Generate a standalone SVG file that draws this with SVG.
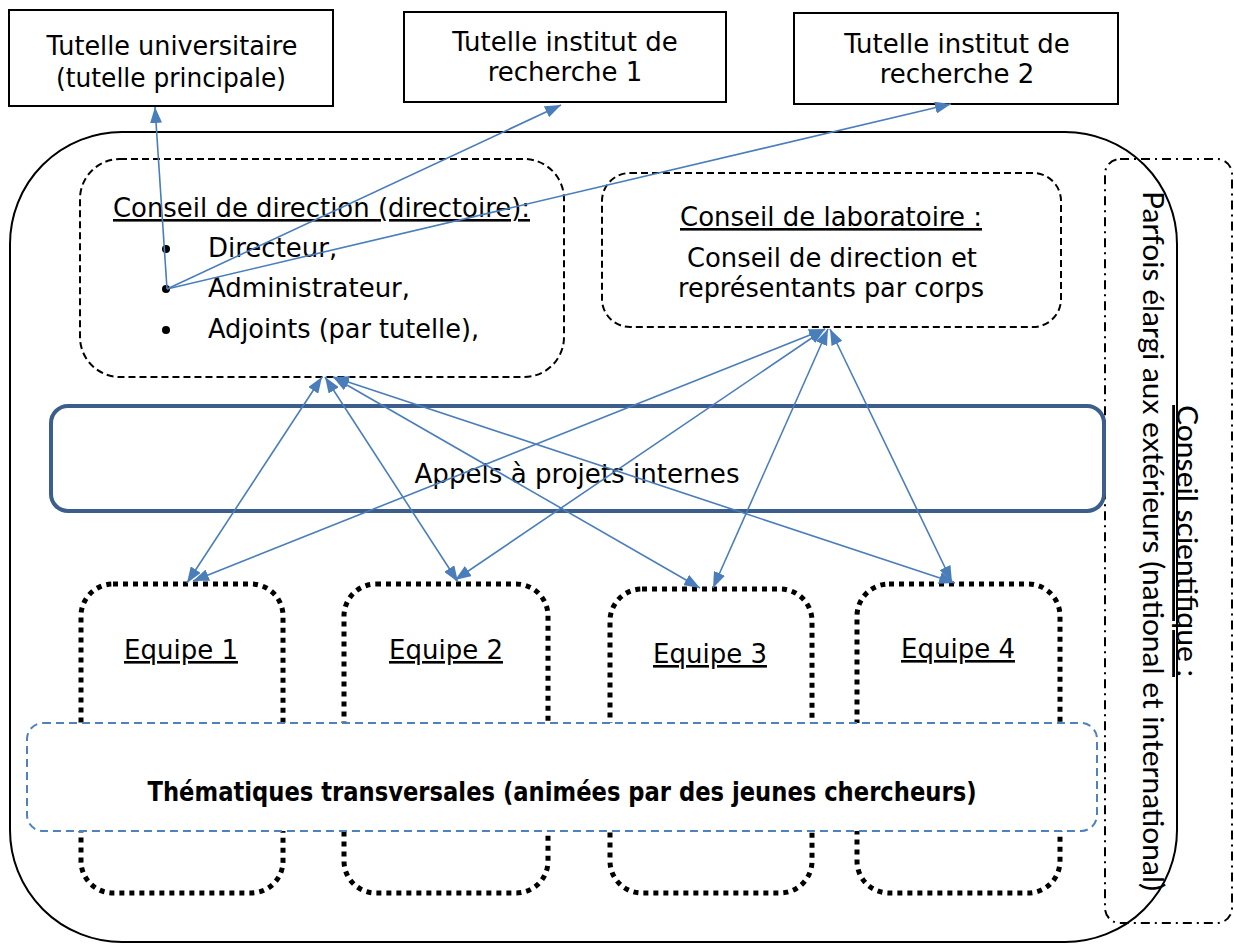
<svg xmlns="http://www.w3.org/2000/svg" width="1234" height="944" viewBox="0 0 1234 944">
<style>
text{font-family:"DejaVu Sans",Verdana,sans-serif;font-size:26px;fill:#000}
.c{text-anchor:middle}
.u{text-decoration:underline}
.box{fill:#fff;stroke:#000;stroke-width:2}
.dash{fill:none;stroke:#000;stroke-width:2;stroke-dasharray:7 4}
.dot{fill:none;stroke:#000;stroke-width:5;stroke-dasharray:5 5}
.con{fill:none;stroke:#4A7EBB;stroke-width:1.6}
.rot{font-family:Lato,"Open Sans",sans-serif;font-size:28px}
</style>
<defs>
<marker id="ah" viewBox="0 0 16 12" refX="16" refY="6" markerWidth="16" markerHeight="12" markerUnits="userSpaceOnUse" orient="auto-start-reverse">
<path d="M0,0 L16,6 L0,12 z" fill="#4A7EBB"/>
</marker>
</defs>
<g id="laboratoire">
<rect x="10" y="132" width="1167" height="810" rx="112" ry="112" fill="none" stroke="#000" stroke-width="2"/>
</g>
<g id="conseil-scientifique">
<rect x="1105" y="159" width="127" height="764" rx="15" ry="15" fill="none" stroke="#000" stroke-width="2" stroke-dasharray="9 5 2 5"/>
<text class="rot c" transform="translate(1143,541) rotate(90)" textLength="700" lengthAdjust="spacingAndGlyphs">Parfois élargi aux extérieurs (national et international)</text>
<text class="rot c u" transform="translate(1177,541) rotate(90)" textLength="272" lengthAdjust="spacingAndGlyphs">Conseil scientifique :</text>
</g>
<g id="tutelle-univ">
<rect class="box" x="9" y="10" width="324" height="96"/>
<text class="c" x="172" y="55" textLength="251" lengthAdjust="spacingAndGlyphs">Tutelle universitaire</text>
<text class="c" x="171" y="87" textLength="230" lengthAdjust="spacingAndGlyphs">(tutelle principale)</text>
</g>
<g id="tutelle-inst1">
<rect class="box" x="404" y="12" width="322" height="90"/>
<text class="c" x="565" y="51">Tutelle institut de</text>
<text class="c" x="565" y="81">recherche 1</text>
</g>
<g id="tutelle-inst2">
<rect class="box" x="794" y="13" width="324" height="91"/>
<text class="c" x="957" y="53">Tutelle institut de</text>
<text class="c" x="957" y="83">recherche 2</text>
</g>
<g id="conseil-direction">
<rect class="dash" x="80" y="159" width="484" height="218" rx="40" ry="40"/>
<text class="u" x="113" y="217" textLength="417" lengthAdjust="spacingAndGlyphs">Conseil de direction (directoire):</text>
<circle cx="166" cy="249" r="4"/>
<circle cx="166" cy="289" r="4"/>
<circle cx="166" cy="330" r="4"/>
<text x="208" y="257">Directeur,</text>
<text x="208" y="297">Administrateur,</text>
<text x="208" y="338" textLength="271" lengthAdjust="spacingAndGlyphs">Adjoints (par tutelle),</text>
</g>
<g id="conseil-laboratoire">
<rect class="dash" x="602" y="173" width="459" height="154" rx="28" ry="28"/>
<text class="c u" x="831" y="226" textLength="302" lengthAdjust="spacingAndGlyphs">Conseil de laboratoire :</text>
<text class="c" x="832" y="267" textLength="290" lengthAdjust="spacingAndGlyphs">Conseil de direction et</text>
<text class="c" x="831" y="297" textLength="306" lengthAdjust="spacingAndGlyphs">représentants par corps</text>
</g>
<g id="appels">
<rect x="51" y="406" width="1053" height="105" rx="17" ry="17" fill="#fff" stroke="#3B5E8C" stroke-width="4"/>
<text class="c" x="577" y="483" textLength="325" lengthAdjust="spacingAndGlyphs">Appels à projets internes</text>
</g>
<g id="equipe1">
<rect class="dot" x="81" y="584" width="202" height="309" rx="32" ry="32"/>
<text class="c u" x="181" y="659">Equipe 1</text>
</g>
<g id="equipe2">
<rect class="dot" x="344" y="584" width="204" height="309" rx="32" ry="32"/>
<text class="c u" x="446" y="659">Equipe 2</text>
</g>
<g id="equipe3">
<rect class="dot" x="610" y="589" width="202" height="304" rx="32" ry="32"/>
<text class="c u" x="710" y="663">Equipe 3</text>
</g>
<g id="equipe4">
<rect class="dot" x="857" y="584" width="203" height="309" rx="32" ry="32"/>
<text class="c u" x="958" y="658">Equipe 4</text>
</g>
<g id="thematiques">
<rect x="27" y="723" width="1070" height="108" rx="16" ry="16" fill="#fff" stroke="#4F81BD" stroke-width="2" stroke-dasharray="8 5"/>
<text class="c" x="562" y="801" font-weight="bold" font-size="25" textLength="829" lengthAdjust="spacingAndGlyphs">Thématiques transversales (animées par des jeunes chercheurs)</text>
</g>
<g id="connectors">
<line class="con" x1="167" y1="289" x2="155" y2="107" marker-end="url(#ah)"/>
<line class="con" x1="167" y1="289" x2="561" y2="105" marker-end="url(#ah)"/>
<line class="con" x1="167" y1="289" x2="951" y2="104" marker-end="url(#ah)"/>
<line class="con" x1="322" y1="377" x2="187" y2="583" marker-start="url(#ah)" marker-end="url(#ah)"/>
<line class="con" x1="325" y1="377" x2="458" y2="582" marker-start="url(#ah)" marker-end="url(#ah)"/>
<line class="con" x1="333" y1="377" x2="700" y2="588" marker-start="url(#ah)" marker-end="url(#ah)"/>
<line class="con" x1="333" y1="377" x2="955" y2="583" marker-start="url(#ah)" marker-end="url(#ah)"/>
<line class="con" x1="825" y1="329" x2="193" y2="581" marker-start="url(#ah)" marker-end="url(#ah)"/>
<line class="con" x1="825" y1="329" x2="455" y2="580" marker-start="url(#ah)" marker-end="url(#ah)"/>
<line class="con" x1="828" y1="329" x2="713" y2="588" marker-start="url(#ah)" marker-end="url(#ah)"/>
<line class="con" x1="830" y1="329" x2="952" y2="582" marker-start="url(#ah)" marker-end="url(#ah)"/>
</g>
</svg>
